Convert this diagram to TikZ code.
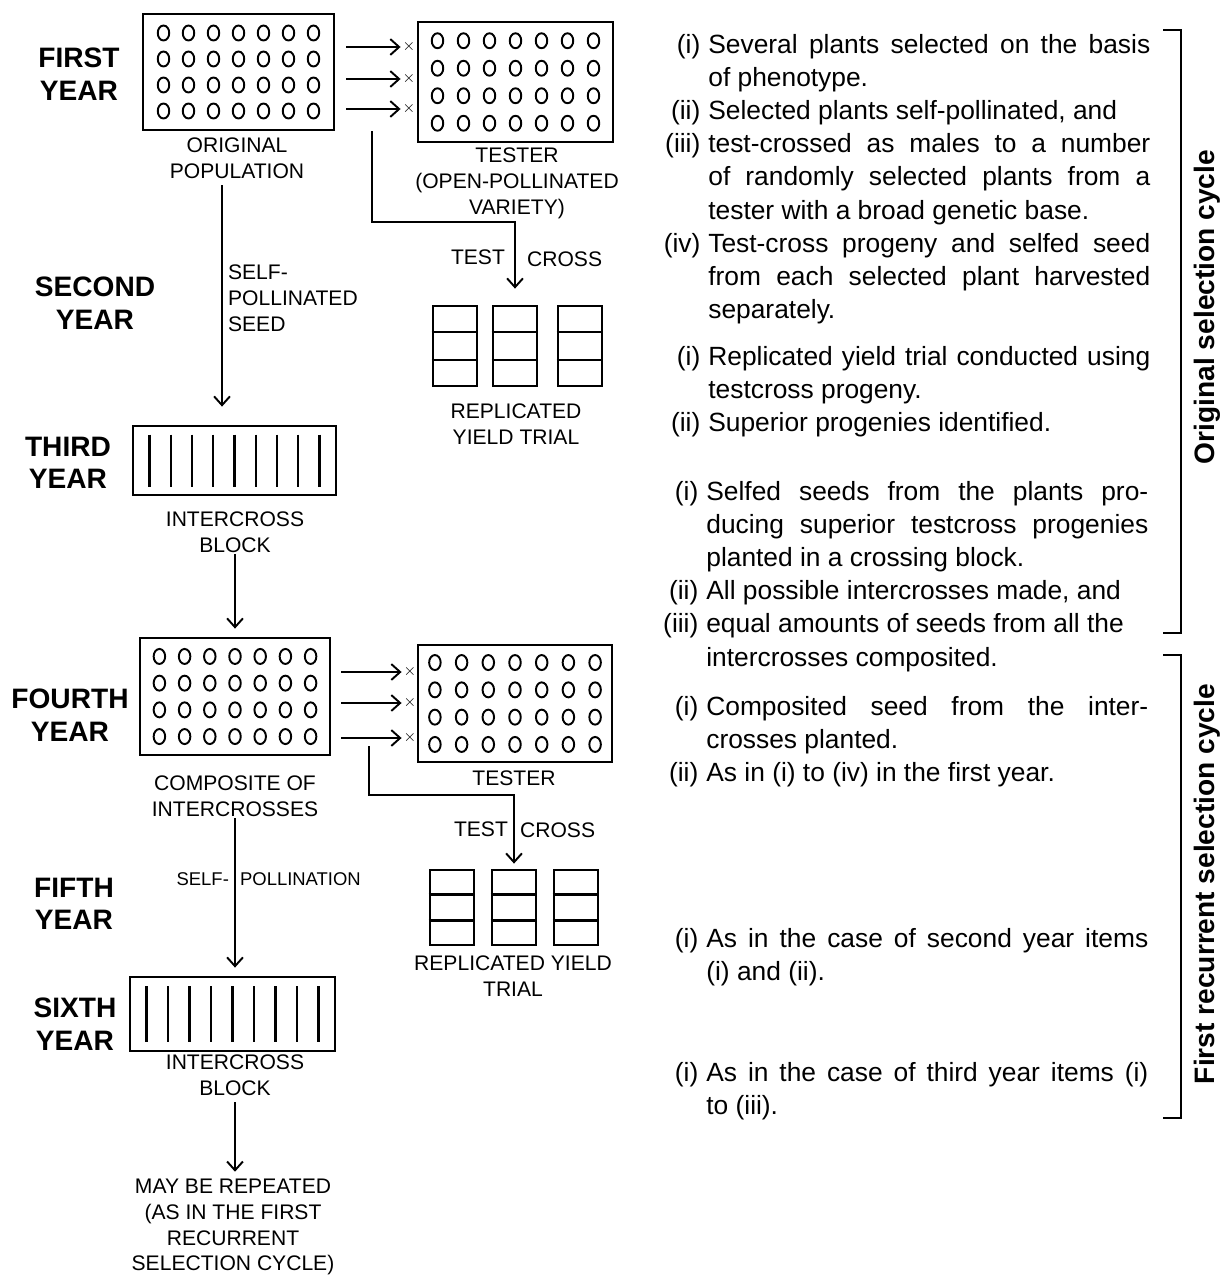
\documentclass[tikz,border=0pt]{standalone}
\usepackage{fontspec}
\setmainfont{Liberation Sans}
\usetikzlibrary{positioning,calc,arrows.meta}

\newcommand{\notesetup}{\fontsize{15}{18.85}\selectfont
  \tolerance=9999\relax\hbadness=10000\relax
  \hyphenpenalty=10000\relax\exhyphenpenalty=10000\relax}

\tikzset{
  yearlab/.style={align=center, inner sep=1pt, font=\bfseries\fontsize{16}{18.5}\selectfont},
  caplab/.style={align=center, inner sep=1pt, font=\fontsize{12}{14.7}\selectfont},
  smalllab/.style={inner sep=1pt, font=\fontsize{10.5}{13}\selectfont},
  plotbox/.style={draw, line width=1.6pt, inner sep=0pt},
  seed/.style={line width=1.1pt},
  row/.style={line width=1.2pt},
  crossmark/.style={inner sep=1pt, font=\small},
  flow/.style={->, line width=1.1pt},
  >={Straight Barb[length=5pt,width=9pt]},
  note/.style={anchor=north west, inner sep=0pt, text width=8.84cm, align=justify, font=\notesetup},
  cyclelab/.style={rotate=90, inner sep=1pt, font=\bfseries\fontsize{16}{18}\selectfont},
}

% 4 x 7 seeds in a box
\newcommand{\seedgrid}[3]{%
  \foreach \i in {-3,...,3}
    \foreach \j in {-1.5,-0.5,0.5,1.5}
      \draw[seed] ($(#1.center)+(\i*#2,\j*#3)$) ellipse [x radius=0.115cm, y radius=0.15cm];
}
% nine rows in a crossing block
\newcommand{\blockrows}[3]{%
  \foreach \i in {-4,...,4}
    \draw[row] ($(#1.center)+(\i*#2,-#3)$) -- ($(#1.center)+(\i*#2,#3)$);
}
% three plots in a trial column
\newcommand{\plotsplit}[1]{%
  \draw[row] ($(#1.north west)!1/3!(#1.south west)$) -- ($(#1.north east)!1/3!(#1.south east)$);
  \draw[row] ($(#1.north west)!2/3!(#1.south west)$) -- ($(#1.north east)!2/3!(#1.south east)$);
}
\newcommand{\yitem}[1]{\par\noindent\llap{(#1)\hspace{0.16cm}}\strut}

\begin{document}
\begin{tikzpicture}[x=0.02cm, y=-0.02cm]
    \useasboundingbox[fill=white] (0,0) rectangle (1226,1277);

    % Year labels
    \node[yearlab] (yr1) at (79,74) {FIRST\\YEAR};
    \node[yearlab] (yr2) at (95,303) {SECOND\\YEAR};
    \node[yearlab] (yr3) at (68,463) {THIRD\\YEAR};
    \node[yearlab] (yr4) at (70,715) {FOURTH\\YEAR};
    \node[yearlab] (yr5) at (74,904) {FIFTH\\YEAR};
    \node[yearlab] (yr6) at (75,1024) {SIXTH\\YEAR};

    % First year: original population and tester
    \node[plotbox, minimum width=3.82cm, minimum height=2.32cm] (orig) at (238.5,72) {};
    \seedgrid{orig}{25}{26}
    \node[caplab] (origlab) at (237,158) {ORIGINAL\\POPULATION};
    \node[plotbox, minimum width=3.9cm, minimum height=2.4cm] (test1) at (515.5,82) {};
    \seedgrid{test1}{26}{27.5}
    \node[caplab] (test1lab) at (517,183) {TESTER\\(OPEN-POLLINATED\\VARIETY)};
    \foreach \k/\yy in {1/47,2/79,3/109}
        \node[crossmark] (xa\k) at (409,\yy) {$\times$};
    \foreach \k in {1,2,3}
        \draw[flow, shorten <=0.22cm] (orig.east |- xa\k) -- (xa\k.west);

    % Second year: test cross and yield trial
    \foreach \k/\xx in {a/455,b/515,c/580} {
        \node[plotbox, minimum width=0.88cm, minimum height=1.6cm] (trial1\k) at (\xx,346) {};
        \plotsplit{trial1\k}
    }
    \coordinate (tc1) at (372,222);
    \draw[flow, shorten >=0.32cm] (tc1 |- orig.south) -- (tc1) -| (trial1b.north);
    \node[caplab, anchor=east] (tlab1) at (507,257) {TEST};
    \node[caplab, anchor=west] (clab1) at (525,259) {CROSS};
    \node[caplab] (trial1lab) at (516,424) {REPLICATED\\YIELD TRIAL};

    % Third year: intercross block
    \node[plotbox, minimum width=4.06cm, minimum height=1.38cm] (block1) at (234.5,460.5) {};
    \blockrows{block1}{21.25}{26}
    \node[caplab] (block1lab) at (235,532) {INTERCROSS\\BLOCK};
    \draw[flow, shorten <=0.1cm, shorten >=0.36cm] ([xshift=-0.3cm]origlab.south) -- ([xshift=-0.3cm]origlab.south |- block1.north);
    \node[caplab, align=left, anchor=west] (selflab1) at (226,298) {SELF-\\POLLINATED\\SEED};

    % Fourth year: composite and tester
    \node[plotbox, minimum width=3.8cm, minimum height=2.34cm] (comp) at (235,696.5) {};
    \seedgrid{comp}{25.2}{26.7}
    \node[caplab] (complab) at (235,796) {COMPOSITE OF\\INTERCROSSES};
    \draw[flow, shorten >=0.16cm] (block1lab.south) -- (comp.north);
    \node[plotbox, minimum width=3.88cm, minimum height=2.34cm] (test2) at (515,703.5) {};
    \seedgrid{test2}{26.7}{27.3}
    \node[caplab] (test2lab) at (514,778) {TESTER};
    \foreach \k/\yy in {1/672,2/703,3/738}
        \node[crossmark] (xb\k) at (410,\yy) {$\times$};
    \foreach \k in {1,2,3}
        \draw[flow, shorten <=0.2cm] (comp.east |- xb\k) -- (xb\k.west);

    % Fifth year: test cross and yield trial
    \foreach \k/\xx in {a/452,b/514,c/576} {
        \node[plotbox, minimum width=0.88cm, minimum height=1.5cm] (trial2\k) at (\xx,907.5) {};
        \plotsplit{trial2\k}
    }
    \coordinate (tc2) at (369,795);
    \draw[flow, shorten >=0.1cm] ([yshift=0.2cm]tc2 |- comp.south) -- (tc2) -| (trial2b.north);
    \node[caplab, anchor=east] (tlab2) at (510,829) {TEST};
    \node[caplab, anchor=west] (clab2) at (518,830) {CROSS};
    \node[caplab] (trial2lab) at (513,976) {REPLICATED YIELD\\TRIAL};

    % Sixth year: intercross block
    \node[plotbox, minimum width=4.1cm, minimum height=1.48cm] (block2) at (232.5,1014) {};
    \blockrows{block2}{21.5}{28}
    \node[caplab] (block2lab) at (235,1075) {INTERCROSS\\BLOCK};
    \draw[flow, shorten >=0.16cm] (complab.south) -- (complab.south |- block2.north);
    \node[smalllab, anchor=east] (selflab2a) at (231,879) {SELF-};
    \node[smalllab, anchor=west] (selflab2b) at (238,879) {POLLINATION};
    \node[caplab] (repeatlab) at (233,1227) {MAY BE REPEATED\\(AS IN THE FIRST\\RECURRENT\\SELECTION CYCLE)};
    \draw[flow, shorten <=0.1cm, shorten >=0.1cm] (block2lab.south) -- (block2lab.south |- repeatlab.north);

    % Notes for each year
    \node[note] (note1) at (708,20) {%
        \yitem{i}Several plants selected on the basis\linebreak of phenotype.
        \yitem{ii}Selected plants self-pollinated, and
        \yitem{iii}test-crossed as males to a number\linebreak of randomly selected plants from a\linebreak tester with a broad genetic base.
        \yitem{iv}Test-cross progeny and selfed seed\linebreak from each selected plant harvested\linebreak separately.};
    \node[note] (note2) at (708,332) {%
        \yitem{i}Replicated yield trial conducted using\linebreak testcross progeny.
        \yitem{ii}Superior progenies identified.};
    \node[note] (note3) at (706,467) {%
        \yitem{i}Selfed seeds from the plants pro-\linebreak ducing superior testcross progenies\linebreak planted in a crossing block.
        \yitem{ii}All possible intercrosses made, and
        \yitem{iii}equal amounts of seeds from all the\newline intercrosses composited.};
    \node[note] (note4) at (706,682) {%
        \yitem{i}Composited seed from the inter-\linebreak crosses planted.
        \yitem{ii}As in (i) to (iv) in the first year.};
    \node[note] (note5) at (706,914) {%
        \yitem{i}As in the case of second year items\linebreak (i) and (ii).};
    \node[note] (note6) at (706,1048) {%
        \yitem{i}As in the case of third year items (i)\linebreak to (iii).};

    % Brackets for the two cycles
    \draw[line width=1.3pt] (1163,30) -- (1181,30) -- (1181,633) -- (1163,633);
    \node[cyclelab] (cyc1) at (1207,307) {Original selection cycle};
    \draw[line width=1.3pt] (1163,655) -- (1181,655) -- (1181,1118) -- (1163,1118);
    \node[cyclelab] (cyc2) at (1207,884) {First recurrent selection cycle};
\end{tikzpicture}
\end{document}
